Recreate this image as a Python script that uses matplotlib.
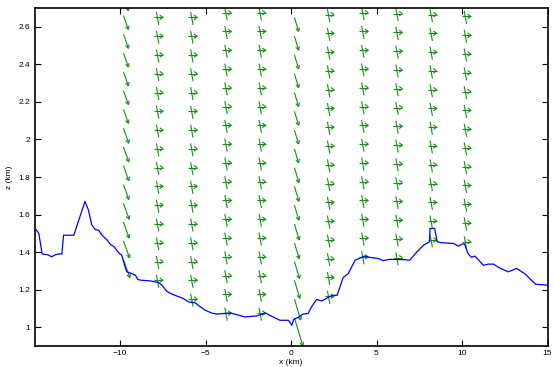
import numpy as np
import matplotlib

matplotlib.use("Agg")
import matplotlib.pyplot as plt
from matplotlib.collections import LineCollection

plt.rcParams["font.family"] = ["Liberation Sans", "DejaVu Sans"]

# terrain profile (km)
terrain_x = [-15.0, -14.75, -14.55, -14.2, -14.0, -13.8, -13.6, -13.4, -13.3, -12.7, -12.05,
             -11.85, -11.65, -11.45, -11.25, -11.05, -10.75, -10.55, -10.35, -10.2, -10.0,
             -9.9, -9.7, -9.6, -9.3, -9.1, -8.95, -8.75, -8.25, -7.75, -7.55, -7.25, -6.95,
             -6.7, -6.3, -6.0, -5.6, -5.3, -5.0, -4.65, -4.35, -3.95, -3.55, -2.7, -2.0,
             -1.5, -1.25, -0.65, -0.15, 0.05, 0.15, 0.45, 0.7, 1.0, 1.2, 1.5, 1.8, 2.3,
             2.45, 2.7, 3.05, 3.35, 3.75, 4.3, 4.6, 5.1, 5.4, 5.7, 6.4, 6.95, 7.35, 7.75,
             8.1, 8.13, 8.4, 8.55, 8.8, 9.5, 9.8, 10.0, 10.15, 10.35, 10.55, 10.75, 10.95,
             11.25, 11.55, 11.85, 12.15, 12.7, 13.2, 13.7, 14.3, 15.0]
terrain_z = [1.53, 1.50, 1.39, 1.385, 1.375, 1.385, 1.39, 1.39, 1.49, 1.49, 1.67,
             1.625, 1.545, 1.52, 1.517, 1.49, 1.464, 1.44, 1.43, 1.41, 1.39,
             1.385, 1.32, 1.295, 1.285, 1.277, 1.254, 1.25, 1.247, 1.238, 1.224, 1.19, 1.176,
             1.167, 1.153, 1.135, 1.13, 1.108, 1.09, 1.076, 1.07, 1.073, 1.076, 1.055, 1.06,
             1.076, 1.064, 1.037, 1.037, 1.01, 1.04, 1.055, 1.07, 1.073, 1.108, 1.148, 1.14, 1.165,
             1.17, 1.17, 1.265, 1.286, 1.357, 1.379, 1.372, 1.366, 1.354, 1.361, 1.361, 1.357, 1.40, 1.437,
             1.455, 1.526, 1.526, 1.455, 1.45, 1.446, 1.432, 1.443, 1.443, 1.393, 1.372, 1.379, 1.36,
             1.33, 1.336, 1.336, 1.318, 1.295, 1.313, 1.283, 1.229, 1.224]

# wind profile columns
col_x = [-9.8, -7.8, -5.8, -3.8, -1.8, 0.2, 2.2, 4.2, 6.2, 8.2, 10.2]
col_z_low = [1.36, 1.25, 1.15, 1.075, 1.075, 1.05, 1.165, 1.375, 1.37, 1.465, 1.455]
col_z_top = [2.76, 2.65, 2.65, 2.675, 2.675, 2.65, 2.665, 2.675, 2.67, 2.665, 2.655]
col_u = [0.0, 9.0, 9.0, 9.0, 9.0, 0.0, 9.0, 9.0, 9.0, 9.0, 9.0]
col_w = [0.0, -1.3, -1.3, -1.3, -1.3, 0.0, -1.3, -1.3, -1.3, -1.3, -1.3]

# strong downdraft columns, w from top level to bottom level
downdraft_w = {
    0: [-1.4, -1.4, -1.4, -1.4, -1.4, -1.4, -1.4, -1.5, -1.5, -1.5, -1.5, -1.6, -1.6, -1.7, -1.8],
    5: [-1.4, -1.4, -1.4, -1.4, -1.4, -1.4, -1.4, -1.4, -1.5, -1.5, -1.5, -1.6, -1.6, -1.7, -1.8, -2.1, -2.8],
}
downdraft_tilt = {0: 0.36, 5: 0.3}

LEVEL_STEP = 0.1
PX_PER_UNIT = 10.0
GREEN = "#159015"

fig = plt.figure(figsize=(5.55, 3.67), dpi=100)
ax = fig.add_axes([34.5 / 555, 21 / 367, 513 / 555, 338 / 367])
ax.set_xlim(-15, 15)
ax.set_ylim(0.9, 2.7)


def open_arrow(p0, p1, head=3.5, ang=np.deg2rad(35)):
    p0 = np.asarray(p0, float)
    p1 = np.asarray(p1, float)
    d = p0 - p1
    d /= np.hypot(*d)
    segs = [[p0, p1]]
    for s in (ang, -ang):
        r = np.array([[np.cos(s), -np.sin(s)], [np.sin(s), np.cos(s)]])
        segs.append([p1, p1 + head * (r @ d)])
    return segs


segs_px = []
for i, x in enumerate(col_x):
    n = int(round((col_z_top[i] - col_z_low[i]) / LEVEL_STEP)) + 1
    levels = col_z_top[i] - LEVEL_STEP * np.arange(n)
    for k, z in enumerate(levels):
        X, Y = ax.transData.transform((x, z))
        if i in downdraft_w:
            w = downdraft_w[i][k] * PX_PER_UNIT
            segs_px += open_arrow((X, Y), (X - downdraft_tilt[i] * w, Y + w), head=4.0, ang=np.deg2rad(28))
        else:
            u = col_u[i]
            w = col_w[i] * PX_PER_UNIT
            segs_px += open_arrow((X - 0.4 * u, Y), (X + 0.6 * u, Y), head=4.0)
            segs_px.append([(X - 1.2, Y - 0.42 * w), (X + 1.2, Y + 0.58 * w)])

inv = ax.transData.inverted()
segs = [inv.transform(np.asarray(s)) for s in segs_px]
ax.add_collection(LineCollection(segs, colors=GREEN, linewidths=0.8, zorder=2))

ax.plot(terrain_x, terrain_z, color="#0000ff", lw=0.9, zorder=3)

ax.set_xticks([-10, -5, 0, 5, 10, 15])
ax.set_yticks([1, 1.2, 1.4, 1.6, 1.8, 2, 2.2, 2.4, 2.6])
ax.set_yticklabels(["1", "1.2", "1.4", "1.6", "1.8", "2", "2.2", "2.4", "2.6"])
ax.tick_params(direction="in", length=4, width=0.8, top=True, right=True,
               labelsize=6, pad=3, colors="black")
for sp in ax.spines.values():
    sp.set_linewidth(1.2)
ax.set_xlabel("x (km)", fontsize=6, labelpad=1)
ax.set_ylabel("z (km)", fontsize=6, labelpad=4)

fig.savefig("out.png", dpi=100)
